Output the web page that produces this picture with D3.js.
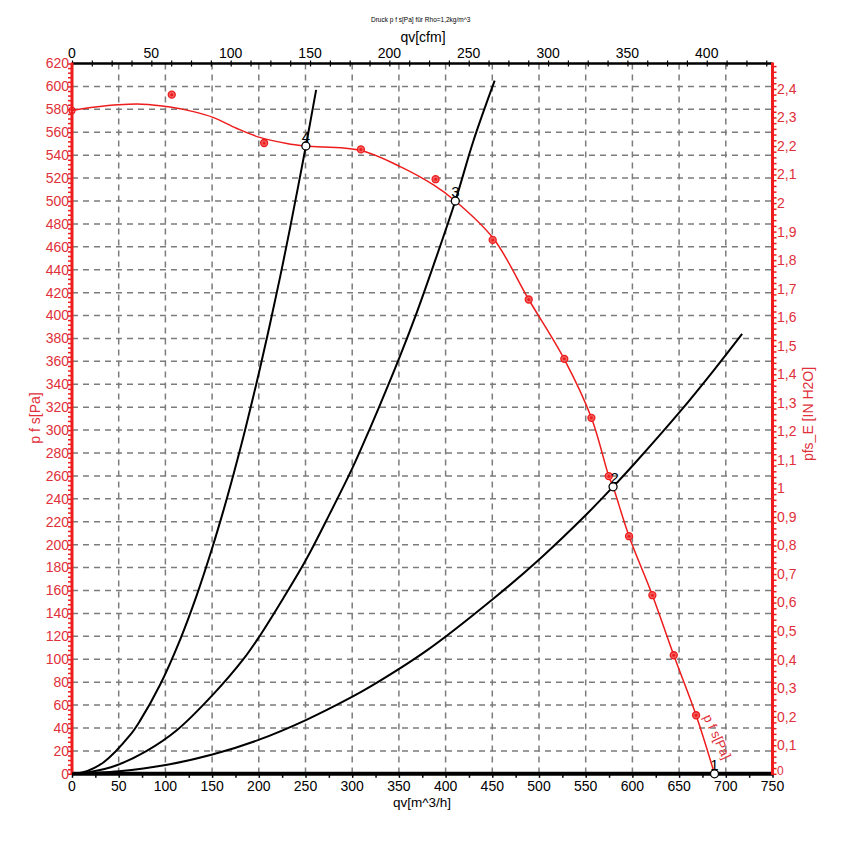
<!DOCTYPE html>
<html>
<head>
<meta charset="utf-8">
<script src="https://cdn.jsdelivr.net/npm/d3@7"></script>
<style>
  html, body { margin: 0; padding: 0; background: #fff; }
  svg { display: block; font-family: "Liberation Sans", Arial, sans-serif; }
</style>
</head>
<body>
<svg id="chart" width="841" height="855"></svg>
<script>
// ---------- data ----------
const titleText = "Druck p f s[Pa] für Rho=1,2kg/m^3";
const xTicksM3h = [0,50,100,150,200,250,300,350,400,450,500,550,600,650,700,750];
const xTicksCfm = [0,50,100,150,200,250,300,350,400];
const yTicksPa = [0,20,40,60,80,100,120,140,160,180,200,220,240,260,280,300,320,340,360,380,400,420,440,460,480,500,520,540,560,580,600,620];
const yTicksInH2O = [0,0.1,0.2,0.3,0.4,0.5,0.6,0.7,0.8,0.9,1,1.1,1.2,1.3,1.4,1.5,1.6,1.7,1.8,1.9,2,2.1,2.2,2.3,2.4];

// fan curve p_fs [Pa] vs qv [m^3/h]
const fanCurve = [
  [0,579],[25,582],[50,584],[75,584.5],[105,582],[130,578],[151,573],[176,563.5],
  [201,555.5],[230,550.2],[250.4,548],[308.6,544.3],[351.4,530],[387.1,514],[410.4,500],
  [451.4,467],[489,414],[527,362],[556,311],[575,259],[579.3,250.5],[596.4,207.4],
  [621.4,155.9],[644.3,103.5],[668.2,51.1],[687.9,0]
];
// measured points (red markers)
const fanMarkers = [
  [106.8,592.8],[205.7,550.6],[309.3,545],[389.3,519],[450.4,466],[489,414],
  [527.1,362.2],[556.1,310.7],[574.7,259.8],[596.4,207.4],[621.4,155.9],[644.3,103.5],[668.2,51.1]
];
// system curves
const systemCurve4 = [
  [0,0],[12,1.3],[33.6,9.9],[62.1,33.7],[72.9,46.4],[94.3,77.7],[115.7,117],[133.6,156],
  [149.7,196],[162.1,229.7],[172.8,261],[183.5,294.3],[193.6,327.6],[201.4,354.5],[212.1,393],
  [222.9,434],[233.6,477],[250.4,548],[261.4,597]
];
const systemCurve3 = [
  [0,0],[19.3,1.6],[47.9,7.5],[80,20],[112.2,38],[151.4,69.5],[183.5,100],[200.4,119.6],
  [226.4,153.5],[250.4,186.6],[272.9,222],[300.3,267],[319.3,302],[328.2,319],[351.4,365],
  [369.3,403],[387.1,444],[410.4,500],[430,553],[452.5,605]
];
const systemCurve2 = [
  [0,0],[50.4,2.2],[100.4,7.6],[150.3,16.8],[200.4,29.8],[250.4,46.9],[300.3,67.3],[319.3,76],
  [380,107.7],[451.4,153],[501.4,188],[551.5,227],[579.3,250.5],[601.4,270],[651.4,316.5],
  [687.1,352.2],[717.5,384]
];
const systemCurves = [systemCurve4, systemCurve3, systemCurve2];
// operating points
const opPoints = [[687.9,0,"1"],[579.3,250.5,"2"],[410.4,500,"3"],[250.4,548,"4"]];

// ---------- layout ----------
const L = 72, R = 772.5, T = 63.5, B = 773.8;
const RED = "#ee1c1c", REDTXT = "#e0303a", GRID = "#7c7c7c";
const M3H_PER_CFM = 1.69901, PA_PER_INH2O = 249.089;

const svg = d3.select("#chart");
const x = d3.scaleLinear().domain([0,750]).range([L,R]);
const xCfm = d3.scaleLinear().domain([0,750/M3H_PER_CFM]).range([L,R]);
const y = d3.scaleLinear().domain([0,620]).range([B,T]);
const yIn = d3.scaleLinear().domain([0,620/PA_PER_INH2O]).range([B,T]);

// title
svg.append("text").attr("x",371).attr("y",22).attr("font-size",6.5).attr("fill","#000")
  .text(titleText);

// grid
const grid = svg.append("g").attr("stroke",GRID).attr("stroke-width",1.5).attr("stroke-dasharray","6,5");
grid.selectAll("line.v").data(xTicksM3h.filter(d=>d>0 && d<750)).join("line")
  .attr("x1",d=>x(d)).attr("x2",d=>x(d)).attr("y1",T).attr("y2",B);
grid.selectAll("line.h").data(yTicksPa.filter(d=>d>0 && d<620)).join("line")
  .attr("class","h").attr("x1",L).attr("x2",R).attr("y1",d=>y(d)).attr("y2",d=>y(d));

// bottom axis
const bottomAxis = d3.axisBottom(x).tickValues(d3.range(0,751,25)).tickSize(4).tickFormat("");
const gB = svg.append("g").attr("transform",`translate(0,${B})`).call(bottomAxis);
gB.select(".domain").remove();
gB.selectAll(".tick line").attr("stroke","#000").attr("stroke-width",1.5);
svg.append("line").attr("x1",L).attr("x2",R).attr("y1",B).attr("y2",B).attr("stroke","#000").attr("stroke-width",4);
svg.append("g").selectAll("text").data(xTicksM3h).join("text")
  .attr("x",d=>x(d)).attr("y",791).attr("text-anchor","middle").attr("font-size",14).attr("fill","#000")
  .text(d=>d);
svg.append("text").attr("x",422).attr("y",806.5).attr("text-anchor","middle").attr("font-size",13.5).attr("fill","#000")
  .text("qv[m^3/h]");

// top axis (cfm)
const topAxis = d3.axisTop(xCfm).tickValues(d3.range(0,441,12.5)).tickSize(3).tickFormat("");
const gT = svg.append("g").attr("transform",`translate(0,${T})`).call(topAxis);
gT.select(".domain").remove();
gT.selectAll(".tick line").attr("stroke","#000").attr("stroke-width",1.2).attr("y2",-3).attr("y1",3);
svg.append("line").attr("x1",L).attr("x2",R).attr("y1",T).attr("y2",T).attr("stroke","#000").attr("stroke-width",2.5);
svg.append("g").selectAll("text").data(xTicksCfm).join("text")
  .attr("x",d=>xCfm(d)).attr("y",58).attr("text-anchor","middle").attr("font-size",14).attr("fill","#000")
  .text(d=>d);
svg.append("text").attr("x",423).attr("y",42).attr("text-anchor","middle").attr("font-size",14).attr("fill","#000")
  .text("qv[cfm]");

// left axis (Pa)
const leftAxis = d3.axisLeft(y).tickValues(d3.range(0,621,4)).tickSize(4).tickFormat("");
const gL = svg.append("g").attr("transform",`translate(${L},0)`).call(leftAxis);
gL.select(".domain").remove();
gL.selectAll(".tick line").attr("stroke",RED).attr("stroke-width",1.5);
svg.append("line").attr("x1",L).attr("x2",L).attr("y1",T-1).attr("y2",B+1).attr("stroke",RED).attr("stroke-width",3);
svg.append("g").selectAll("text").data(yTicksPa).join("text")
  .attr("x",69).attr("y",d=>y(d)).attr("dy","0.35em").attr("text-anchor","end").attr("font-size",14).attr("fill",REDTXT)
  .text(d=>d);
svg.append("text").attr("transform","translate(40,418) rotate(-90)").attr("text-anchor","middle")
  .attr("font-size",14).attr("fill",REDTXT).text("p f s[Pa]");

// right axis (in H2O)
const rightAxis = d3.axisRight(yIn).tickValues(d3.range(0,2.49,0.02)).tickSize(4).tickFormat("");
const gR = svg.append("g").attr("transform",`translate(${R},0)`).call(rightAxis);
gR.select(".domain").remove();
gR.selectAll(".tick line").attr("stroke",RED).attr("stroke-width",1.5);
svg.append("line").attr("x1",R).attr("x2",R).attr("y1",T-1).attr("y2",B+1).attr("stroke",RED).attr("stroke-width",3);
svg.append("g").selectAll("text").data(yTicksInH2O).join("text")
  .attr("x",777).attr("y",d=>yIn(d)).attr("dy",d=>d===0?"0.12em":"0.35em").attr("text-anchor","start")
  .attr("font-size",d=>d===0?12:14).attr("fill",REDTXT)
  .text(d=>d===0?"0":String(d).replace(".",","));
svg.append("text").attr("transform","translate(813,414) rotate(-90)").attr("text-anchor","middle")
  .attr("font-size",14).attr("fill",REDTXT).text("pfs_E [IN H2O]");

// system curves (black)
const line = d3.line().x(d=>x(d[0])).y(d=>y(d[1])).curve(d3.curveCatmullRom.alpha(0.5));
svg.append("g").selectAll("path").data(systemCurves).join("path")
  .attr("d",line).attr("fill","none").attr("stroke","#000").attr("stroke-width",2);

// fan curve (red)
svg.append("path").datum(fanCurve).attr("d",line).attr("fill","none").attr("stroke",RED).attr("stroke-width",1.5);
svg.append("circle").attr("cx",x(fanCurve[0][0])).attr("cy",y(fanCurve[0][1])).attr("r",3)
  .attr("fill","none").attr("stroke",RED).attr("stroke-width",1.2);

const mk = svg.append("g").selectAll("g").data(fanMarkers).join("g")
  .attr("transform",d=>`translate(${x(d[0])},${y(d[1])})`);
mk.append("circle").attr("r",3.5).attr("fill","#f26060").attr("stroke",RED).attr("stroke-width",1.3);
mk.append("circle").attr("r",1.5).attr("fill",RED);

// curve label
svg.append("text").attr("transform","translate(703,717) rotate(65)").attr("font-size",13)
  .attr("fill",REDTXT).text("p f s[Pa]");

// operating points
const op = svg.append("g").selectAll("g").data(opPoints).join("g");
op.append("circle").attr("cx",d=>x(d[0])).attr("cy",d=>y(d[1])).attr("r",4)
  .attr("fill","#fff").attr("stroke","#000").attr("stroke-width",1.3);
op.append("text").attr("x",d=>x(d[0])+(d[2]==="2"?1.5:0)).attr("y",d=>y(d[1])-4)
  .attr("text-anchor","middle").attr("font-size",15).attr("fill","#000").text(d=>d[2]);
</script>
</body>
</html>
